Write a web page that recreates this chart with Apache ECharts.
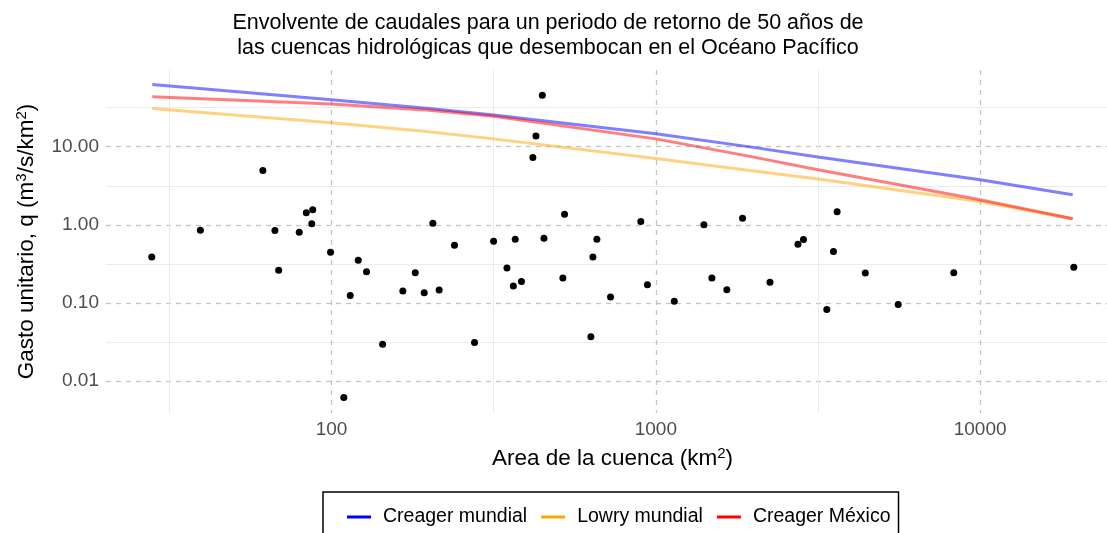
<!DOCTYPE html>
<html><head><meta charset="utf-8">
<script src="https://cdn.jsdelivr.net/npm/echarts@6/dist/echarts.min.js"></script>
<style>html,body{margin:0;padding:0;background:#fff}#chart{width:1107px;height:533px}</style>
</head><body><div id="chart"></div>
<script>
// Observed basins (area km², unit discharge m³/s/km²)
const basinArea = [27.9, 39.4, 61.4, 66.9, 68.7, 79.5, 83.6, 87.5, 86.9, 99.3, 109.1, 114.2, 120.9, 128.2, 143.7, 165.9, 181.2, 193.1, 205.3, 214.7, 239.4, 276, 316, 347.5, 368.5, 363.6, 385.2, 417.6, 426.9, 446.7, 451.9, 516.8, 522.9, 630.6, 639.7, 658, 725, 898.7, 942, 1140, 1407, 1489, 1656, 1851, 2249, 2743, 2853, 3367, 3530, 3623, 4425, 5590, 8294, 19450];
const basinQ = [0.388, 0.855, 4.97, 0.845, 0.262, 0.806, 1.426, 1.557, 1.03, 0.447, 0.00616, 0.125, 0.352, 0.252, 0.0297, 0.142, 0.244, 0.135, 1.05, 0.147, 0.549, 0.0313, 0.618, 0.281, 0.655, 0.165, 0.189, 7.30, 13.74, 45.6, 0.675, 0.209, 1.371, 0.0369, 0.388, 0.655, 0.119, 1.104, 0.171, 0.105, 1.00, 0.209, 0.148, 1.219, 0.184, 0.565, 0.648, 0.0828, 0.455, 1.468, 0.242, 0.096, 0.244, 0.286];

// Envelope curves
const envArea = [28, 100, 200, 316, 1000, 1950, 3162, 10000, 19300];
const creagerMundial = [62.5, 39.8, 30.8, 25.5, 14.7, 9.95, 7.39, 3.78, 2.43];
const lowryMundial = [30.8, 20.2, 15.5, 12.6, 7.09, 4.97, 3.86, 1.99, 1.20];
const creagerMexico = [43.5, 35.3, 29.3, 24.5, 12.6, 7.52, 5.08, 2.09, 1.20];

const seriesNames = ['Creager mundial', 'Lowry mundial', 'Creager México'];
const seriesColors = ['#0000FF', '#FFA500', '#FF0000'];

const xMajor = [100, 1000, 10000];
const xMinor = [31.62, 316.2, 3162];
const yMajor = [0.01, 0.1, 1, 10];
const yMinor = [0.03162, 0.3162, 3.162, 31.62];

const FONT = 'Liberation Sans, Arial, sans-serif';
const zip = (a, b) => a.map((v, i) => [v, b[i]]);

const chart = echarts.init(document.getElementById('chart'), null, {renderer: 'canvas'});
const xRange = {min: 20.16, max: 24620};
const yRange = {min: 0.00391, max: 95.9};

const majorLine = {show: true, lineStyle: {color: '#c4c4c4', width: 1.3, type: [5, 5]}};
const minorLine = {show: true, lineStyle: {color: '#ebebeb', width: 1, type: 'solid'}};
const supRich = {sup: {fontFamily: FONT, fontSize: 15, color: '#000', verticalAlign: 'top', lineHeight: 14}};

const lineSeries = [creagerMundial, lowryMundial, creagerMexico].map((vals, i) => ({
  name: seriesNames[i],
  type: 'line',
  xAxisIndex: 0, yAxisIndex: 0,
  data: zip(envArea, vals),
  showSymbol: false,
  symbol: 'none',
  itemStyle: {color: seriesColors[i]},
  lineStyle: {color: seriesColors[i], width: 3, opacity: 0.5},
  z: 3 + i,
  silent: true
}));

chart.setOption({
  animation: false,
  backgroundColor: '#fff',
  textStyle: {fontFamily: FONT},
  title: {
    text: 'Envolvente de caudales para un periodo de retorno de 50 años de\nlas cuencas hidrológicas que desembocan en el Océano Pacífico',
    left: 548, top: 11, padding: 0,
    textAlign: 'center',
    textStyle: {fontFamily: FONT, fontSize: 21.5, fontWeight: 'normal', color: '#000', lineHeight: 25}
  },
  grid: {left: 106, right: 0, top: 70, bottom: 120, containLabel: false},
  xAxis: [
    {
      type: 'log', logBase: 10, min: xRange.min, max: xRange.max, position: 'bottom',
      name: 'Area de la cuenca (km{sup|2})', nameLocation: 'middle', nameGap: 33,
      nameTextStyle: {fontFamily: FONT, fontSize: 22.5, color: '#000', lineHeight: 26, rich: supRich,
        padding: [0, 0, 0, 12]},
      axisLine: {show: false},
      axisTick: {show: false, customValues: xMajor},
      axisLabel: {customValues: xMajor, fontFamily: FONT, fontSize: 19, color: '#4d4d4d', margin: 7,
        formatter: v => String(Math.round(v))},
      splitLine: majorLine
    },
    {
      type: 'log', logBase: 10, min: xRange.min, max: xRange.max, position: 'top',
      axisLine: {show: false},
      axisTick: {show: false, customValues: xMinor},
      axisLabel: {show: false, customValues: xMinor},
      splitLine: minorLine
    }
  ],
  yAxis: [
    {
      type: 'log', logBase: 10, min: yRange.min, max: yRange.max, position: 'left',
      name: 'Gasto unitario, q (m{sup|3}/s/km{sup|2})', nameLocation: 'middle', nameGap: 66,
      nameTextStyle: {fontFamily: FONT, fontSize: 22.5, color: '#000', lineHeight: 26, rich: supRich},
      axisLine: {show: false},
      axisTick: {show: false, customValues: yMajor},
      axisLabel: {customValues: yMajor, fontFamily: FONT, fontSize: 19, color: '#4d4d4d', margin: 7,
        formatter: v => v.toFixed(2)},
      splitLine: majorLine
    },
    {
      type: 'log', logBase: 10, min: yRange.min, max: yRange.max, position: 'right',
      axisLine: {show: false},
      axisTick: {show: false, customValues: yMinor},
      axisLabel: {show: false, customValues: yMinor},
      splitLine: minorLine
    }
  ],
  legend: {
    data: seriesNames.map((n, i) => ({name: n, itemStyle: {color: seriesColors[i], opacity: 1}})),
    left: 323, top: 492, orient: 'horizontal',
    icon: 'rect', itemWidth: 24, itemHeight: 3, itemGap: 14,
    borderColor: '#000', borderWidth: 1.5,
    padding: [15, 8, 40, 24],
    selectedMode: false,
    formatter: name => '{t|' + name + '}',
    textStyle: {fontFamily: FONT, fontSize: 19.5, color: '#000',
      rich: {t: {fontFamily: FONT, fontSize: 19.5, color: '#000', padding: [0, 0, 0, 7]}}}
  },
  series: [
    ...lineSeries,
    {
      name: 'Cuencas', type: 'scatter', xAxisIndex: 0, yAxisIndex: 0,
      data: zip(basinArea, basinQ),
      symbol: 'circle', symbolSize: 7,
      itemStyle: {color: '#000', opacity: 1},
      z: 10, silent: true
    }
  ]
});
</script></body></html>
